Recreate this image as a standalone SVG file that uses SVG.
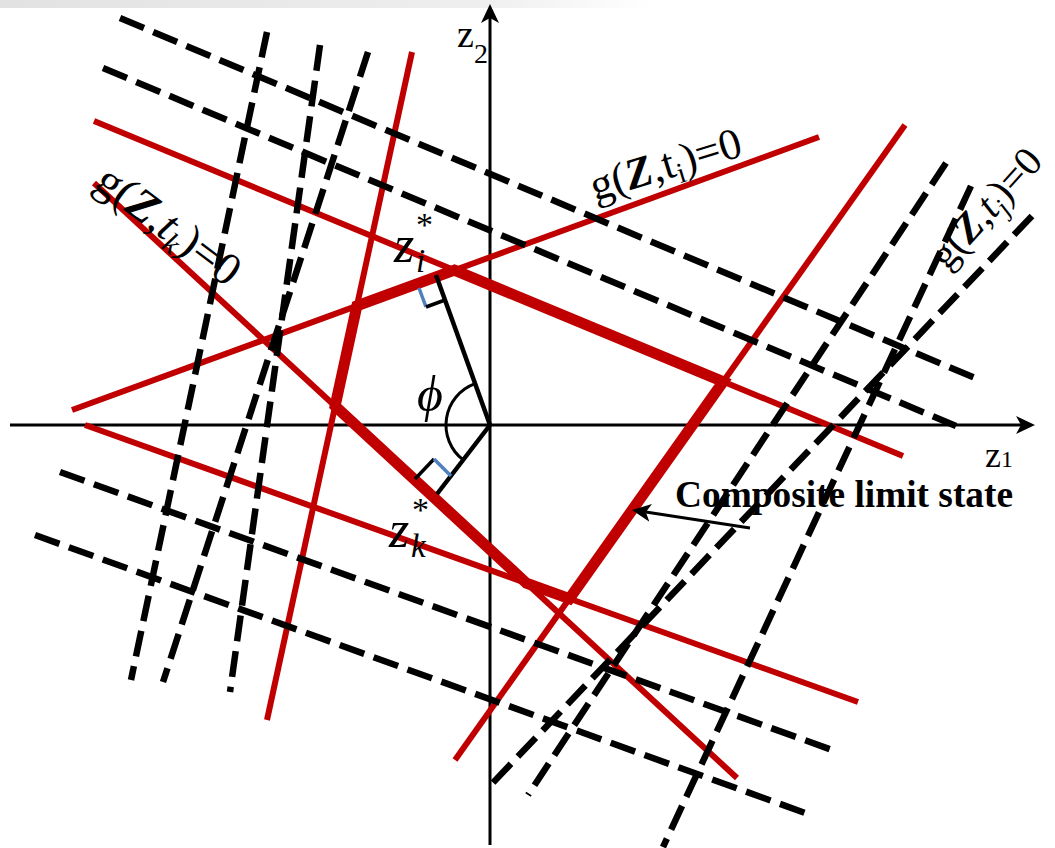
<svg xmlns="http://www.w3.org/2000/svg" width="1055" height="848" viewBox="0 0 1055 848">
<style>
.ax{stroke:#000;stroke-width:3;fill:none}
.red{stroke:#C00000;stroke-width:6;fill:none;stroke-linecap:butt}
.thick{stroke:#C00000;stroke-width:11;fill:none;stroke-linejoin:miter;stroke-miterlimit:6}
.dash{stroke:#000;stroke-width:6.5;fill:none;stroke-dasharray:26 10}
.blk{stroke:#000;stroke-width:4.5;fill:none}
.mk{stroke-width:3.5;fill:none}
.t{font-family:"Liberation Serif","Times New Roman",serif;fill:#000}
</style>
<defs>
<marker id="ah" viewBox="0 0 19 18" refX="5" refY="9" markerWidth="19" markerHeight="18" orient="auto" markerUnits="userSpaceOnUse">
<path d="M0,0 L19,9 L0,18 L5,9 Z" fill="#000"/>
</marker>
<linearGradient id="shade" x1="0" y1="0" x2="1" y2="0">
<stop offset="0" stop-color="#e2e2e2"/>
<stop offset="0.45" stop-color="#eeeeee"/>
<stop offset="0.62" stop-color="#ffffff"/>
</linearGradient>
</defs>
<rect x="0" y="0" width="1055" height="848" fill="#fff"/>
<rect x="0" y="0" width="1055" height="8" fill="url(#shade)"/>

<g id="axes">
<path class="ax" d="M10,425 L1021,425" marker-end="url(#ah)"/>
<path class="ax" d="M490,845 L490,18" marker-end="url(#ah)"/>
</g>

<g id="limit-states-red">
<path class="red" d="M94,121 L903,456"/>
<path class="red" d="M72,410 L819,137"/>
<path class="red" d="M94,183 L737,778"/>
<path class="red" d="M85,425 L858,702"/>
<path class="red" d="M412,52 L267,720"/>
<path class="red" d="M905,125 L455,760"/>
</g>

<g id="composite">
<path class="thick" d="M454.4,270.2 L723.2,381.6 L569.4,598.6 L526.5,583.2 L335.1,406.1 L356.9,305.9 Z"/>
</g>

<g id="perpendiculars">
<path class="blk" d="M490,425 L436,275"/>
<path class="blk" d="M490,425 L437,494"/>
<path class="mk" stroke="#4F81BD" d="M419,288 L426,307"/>
<path class="mk" stroke="#000" d="M426,307 L445,300"/>
<path class="mk" stroke="#000" d="M415,479 L434,459"/>
<path class="mk" stroke="#4F81BD" d="M434,459 L451,476"/>
<path stroke="#000" stroke-width="3" fill="none" d="M475.1,383.6 A44,44 0 0 0 463.2,459.9"/>
</g>

<g id="connectors">
<path class="dash" d="M120,18 L975,378"/>
<path class="dash" d="M103,68 L956,426"/>
<path class="dash" d="M60,472 L835,751"/>
<path class="dash" d="M35,535 L808,814"/>
<path class="dash" d="M267,32 L131,680"/>
<path class="dash" d="M320,45 L230,692"/>
<path class="dash" d="M368,52 L163,682"/>
<path class="dash" d="M946,163 L528,795"/>
<path class="dash" d="M1032,216 L487,789"/>
<path class="dash" d="M971,186 L663,847"/>
<path stroke="#000" stroke-width="3" fill="none" d="M750,528 L645.8,512.1" marker-end="url(#ah)"/>
</g>

<g id="labels">
<text class="t" x="457" y="47" font-size="38">z<tspan font-size="28" dy="16">2</tspan></text>
<text class="t" x="985" y="467" font-size="36">z<tspan font-size="24">1</tspan></text>
<text class="t" x="417" y="411" font-size="50" font-style="italic">ϕ</text>
<text class="t" x="394" y="262" font-size="52" font-style="italic">z</text>
<text class="t" x="416" y="272" font-size="33" font-style="italic">i</text>
<text class="t" x="416" y="236" font-size="34">*</text>
<text class="t" x="389" y="547" font-size="52" font-style="italic">z</text>
<text class="t" x="411" y="557" font-size="33" font-style="italic">k</text>
<text class="t" x="412" y="521" font-size="34">*</text>
<text class="t" font-size="44" transform="translate(595,201) rotate(-17)">g(<tspan font-weight="bold" font-style="italic">Z</tspan>,t<tspan font-size="29" dy="8">i</tspan><tspan dy="-8">)=0</tspan></text>
<text class="t" font-size="46" transform="translate(92.5,186.5) rotate(37)">g(<tspan font-weight="bold" font-style="italic">Z</tspan>,<tspan font-style="italic">t</tspan><tspan font-size="30" font-style="italic" dy="8">k</tspan><tspan dy="-8">)=0</tspan></text>
<text class="t" font-size="41" transform="translate(947,271) rotate(-48)">g(<tspan font-weight="bold" font-style="italic">Z</tspan>,<tspan font-style="italic">t</tspan><tspan font-size="27" font-style="italic" dy="8">j</tspan><tspan dy="-8">)=0</tspan></text>
<text class="t" x="675" y="507" font-size="37" font-weight="bold" textLength="338" lengthAdjust="spacingAndGlyphs">Composite limit state</text>
</g>
</svg>
